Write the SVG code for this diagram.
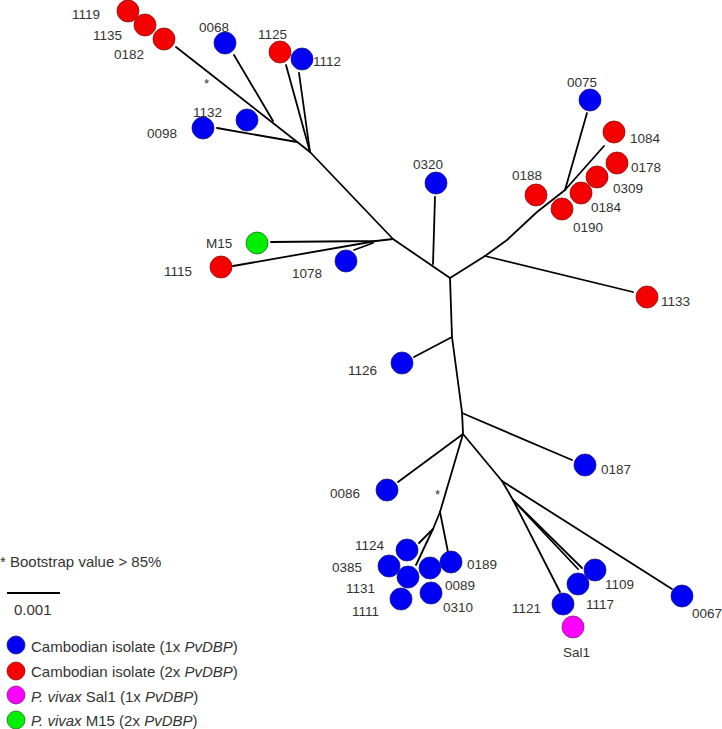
<svg xmlns="http://www.w3.org/2000/svg" width="722" height="729" viewBox="0 0 722 729">
<style>
.e{fill:none;stroke:#000;stroke-width:1.8;stroke-linejoin:round;stroke-linecap:round}
.b{fill:#0000f5;stroke:#1a1a80;stroke-width:0.8}
.r{fill:#f50000;stroke:#8a1010;stroke-width:0.8}
.m{fill:#ff00ff;stroke:#802080;stroke-width:0.8}
.g{fill:#00ee00;stroke:#207020;stroke-width:0.8}
text{font-family:"Liberation Sans",Arial,sans-serif;fill:#333}
.l{font-size:13.5px}
.k{font-size:15px}
.s{font-size:13px}
</style>
<rect width="722" height="729" fill="#fff"/>
<g id="connectors">
<polyline class="e" points="176,47 310,152"/>
<polyline class="e" points="234,55 273,121"/>
<polyline class="e" points="217,128 297,142"/>
<polyline class="e" points="286,65 310,152"/>
<polyline class="e" points="299,73 310,152"/>
<polyline class="e" points="310,152 393,239"/>
<polyline class="e" points="271,242 376,241 393,239"/>
<polyline class="e" points="233,266 376,241"/>
<polyline class="e" points="354,250 373,243"/>
<polyline class="e" points="393,239 450,278"/>
<polyline class="e" points="435,197 433,264"/>
<polyline class="e" points="450,278 485,256"/>
<polyline class="e" points="485,256 633,292"/>
<polyline class="e" points="485,256 507,240 537,212 565,190"/>
<polyline class="e" points="565,190 587,113"/>
<polyline class="e" points="565,190 604,146"/>
<polyline class="e" points="450,278 452,337 462,412 463,433"/>
<polyline class="e" points="452,337 414,357"/>
<polyline class="e" points="462,413 572,460"/>
<polyline class="e" points="463,434 398,482"/>
<polyline class="e" points="463,434 440,512"/>
<polyline class="e" points="440,512 448,552"/>
<polyline class="e" points="440,512 433,529"/>
<polyline class="e" points="433,529 419,543"/>
<polyline class="e" points="433,529 416,565"/>
<polyline class="e" points="463,434 502,481"/>
<polyline class="e" points="502,481 672,589"/>
<polyline class="e" points="502,481 513,500"/>
<polyline class="e" points="513,500 582,568"/>
<polyline class="e" points="513,500 578,569"/>
<polyline class="e" points="513,500 560,592"/>
</g>
<g id="stars">
<text class="s" x="204" y="88">*</text>
<text class="s" x="435" y="499">*</text>
</g>
<g id="n1119"><circle class="r" cx="128" cy="11" r="11"/><text class="l" x="72" y="19">1119</text></g>
<g id="n1135"><circle class="r" cx="145" cy="25" r="11"/><text class="l" x="93" y="40">1135</text></g>
<g id="n0182"><circle class="r" cx="164" cy="39" r="11"/><text class="l" x="114" y="59">0182</text></g>
<g id="n0068"><circle class="b" cx="225" cy="43" r="11"/><text class="l" x="199" y="32">0068</text></g>
<g id="n1125"><circle class="r" cx="280" cy="52" r="11"/><text class="l" x="258" y="39">1125</text></g>
<g id="n1112"><circle class="b" cx="302" cy="59" r="11"/><text class="l" x="313" y="66">1112</text></g>
<g id="n1132"><circle class="b" cx="247" cy="120" r="11"/><text class="l" x="193" y="117">1132</text></g>
<g id="n0098"><circle class="b" cx="203" cy="128" r="11"/><text class="l" x="147" y="138">0098</text></g>
<g id="nM15"><circle class="g" cx="257" cy="243" r="11"/><text class="l" x="206" y="248">M15</text></g>
<g id="n1115"><circle class="r" cx="221" cy="267" r="11"/><text class="l" x="164" y="276">1115</text></g>
<g id="n1078"><circle class="b" cx="346" cy="261" r="11"/><text class="l" x="292" y="278">1078</text></g>
<g id="n0320"><circle class="b" cx="436" cy="183" r="11"/><text class="l" x="413" y="169">0320</text></g>
<g id="n0075"><circle class="b" cx="590" cy="100" r="11"/><text class="l" x="567" y="87">0075</text></g>
<g id="n1084"><circle class="r" cx="614" cy="132" r="11"/><text class="l" x="630" y="143">1084</text></g>
<g id="n0178"><circle class="r" cx="617" cy="163" r="11"/><text class="l" x="631" y="172">0178</text></g>
<g id="n0309"><circle class="r" cx="597" cy="177" r="11"/><text class="l" x="613" y="193">0309</text></g>
<g id="n0184"><circle class="r" cx="581" cy="193" r="11"/><text class="l" x="591" y="212">0184</text></g>
<g id="n0190"><circle class="r" cx="562" cy="209" r="11"/><text class="l" x="573" y="232">0190</text></g>
<g id="n0188"><circle class="r" cx="536" cy="195" r="11"/><text class="l" x="512" y="180">0188</text></g>
<g id="n1133"><circle class="r" cx="647" cy="297" r="11"/><text class="l" x="661" y="306">1133</text></g>
<g id="n1126"><circle class="b" cx="402" cy="363" r="11"/><text class="l" x="348" y="375">1126</text></g>
<g id="n0187"><circle class="b" cx="585" cy="465" r="11"/><text class="l" x="601" y="474">0187</text></g>
<g id="n0086"><circle class="b" cx="387" cy="490" r="11"/><text class="l" x="330" y="498">0086</text></g>
<g id="n1124"><circle class="b" cx="407" cy="550" r="11"/><text class="l" x="355" y="550">1124</text></g>
<g id="n0385"><circle class="b" cx="389" cy="566" r="11"/><text class="l" x="332" y="572">0385</text></g>
<g id="n0089"><circle class="b" cx="430" cy="568" r="11"/><text class="l" x="445" y="590">0089</text></g>
<g id="n1131"><circle class="b" cx="408" cy="577" r="11"/><text class="l" x="346" y="593">1131</text></g>
<g id="n0189"><circle class="b" cx="451" cy="562" r="11"/><text class="l" x="467" y="569">0189</text></g>
<g id="n1111"><circle class="b" cx="401" cy="599" r="11"/><text class="l" x="352" y="616">1111</text></g>
<g id="n0310"><circle class="b" cx="431" cy="593" r="11"/><text class="l" x="443" y="612">0310</text></g>
<g id="n1109"><circle class="b" cx="595" cy="570" r="11"/><text class="l" x="605" y="589">1109</text></g>
<g id="n1117"><circle class="b" cx="578" cy="584" r="11"/><text class="l" x="586" y="609">1117</text></g>
<g id="n1121"><circle class="b" cx="563" cy="604" r="11"/><text class="l" x="512" y="613">1121</text></g>
<g id="nSal1"><circle class="m" cx="573" cy="627" r="11"/><text class="l" x="563" y="657">Sal1</text></g>
<g id="n0067"><circle class="b" cx="682" cy="596" r="11"/><text class="l" x="692" y="618">0067</text></g>
<g id="legend">
<text class="k" x="0" y="567">* Bootstrap value &gt; 85%</text>
<line x1="7" y1="593" x2="60" y2="593" stroke="#000" stroke-width="1.8"/>
<text class="k" x="14" y="615">0.001</text>
<circle class="b" cx="16" cy="645" r="9"/>
<text class="k" x="31" y="652">Cambodian isolate (1x <tspan font-style="italic">PvDBP</tspan>)</text>
<circle class="r" cx="16" cy="671" r="9"/>
<text class="k" x="31" y="677">Cambodian isolate (2x <tspan font-style="italic">PvDBP</tspan>)</text>
<circle class="m" cx="16" cy="695" r="9"/>
<text class="k" x="31" y="702"><tspan font-style="italic">P. vivax</tspan> Sal1 (1x <tspan font-style="italic">PvDBP</tspan>)</text>
<circle class="g" cx="16" cy="720" r="9"/>
<text class="k" x="31" y="726"><tspan font-style="italic">P. vivax</tspan> M15 (2x <tspan font-style="italic">PvDBP</tspan>)</text>
</g>
</svg>
